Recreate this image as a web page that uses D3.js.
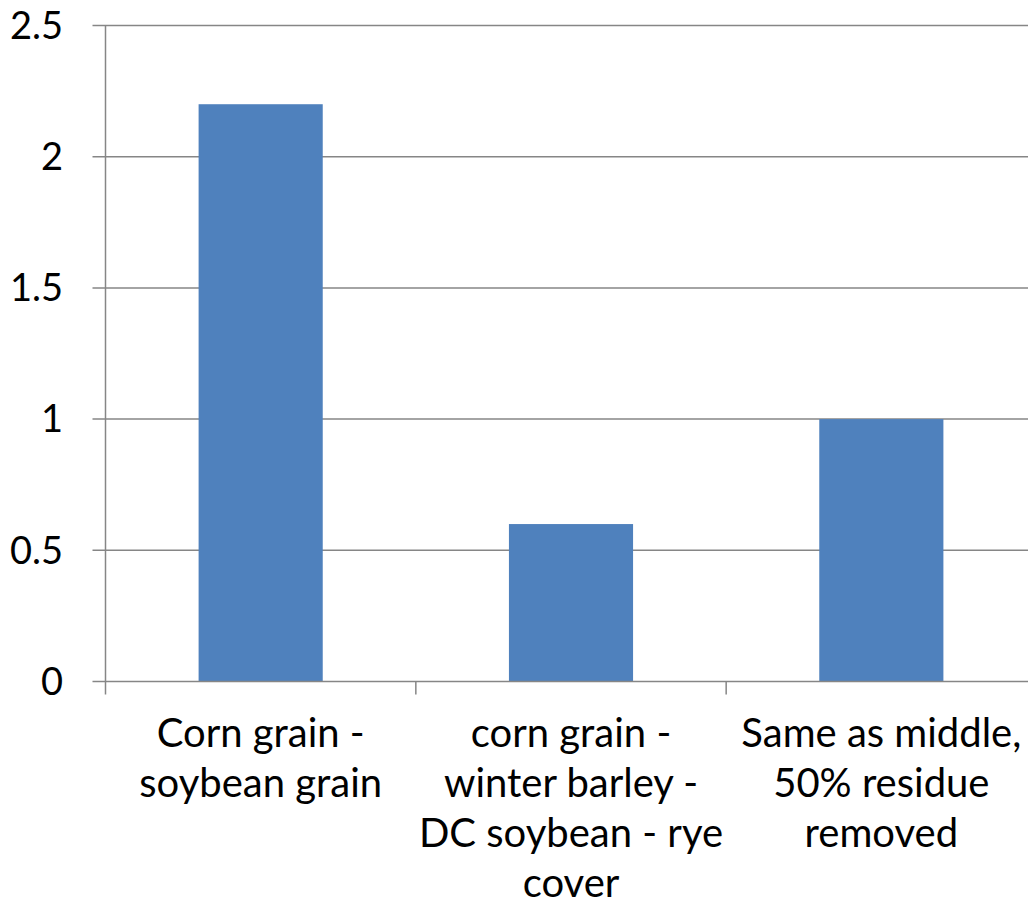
<!DOCTYPE html>
<html><head><meta charset="utf-8">
<script src="https://cdn.jsdelivr.net/npm/d3@7"></script>
<style>body{margin:0;background:#fff}svg{display:block}</style>
</head><body>
<script>
const categories = ["Corn grain - soybean grain", "corn grain - winter barley - DC soybean - rye cover", "Same as middle, 50% residue removed"];
const categoryLines = [["Corn grain -", "soybean grain"], ["corn grain -", "winter barley -", "DC soybean - rye", "cover"], ["Same as middle,", "50% residue", "removed"]];
const values = [2.2, 0.6, 1.0];
const yTicks = [0, 0.5, 1, 1.5, 2, 2.5];
const yTickLabels = ["0", "0.5", "1", "1.5", "2", "2.5"];

const W = 1028, H = 907;
const m = {left: 105.5, top: 25.5, right: 1036.5, bottom: 681.5};
const font = "Lato, 'Open Sans', sans-serif";

const svg = d3.select("body").append("svg").attr("width", W).attr("height", H);

const x = d3.scaleBand().domain(categories).range([m.left, m.right]).paddingInner(0.6).paddingOuter(0.3);
const xb = d3.scaleBand().domain(categories).range([m.left, m.right]);
const y = d3.scaleLinear().domain([0, 2.5]).range([m.bottom, m.top]);

// gridlines
svg.append("g").selectAll("line").data(yTicks.filter(d => d > 0)).join("line")
  .attr("x1", m.left - 13).attr("x2", W).attr("y1", d => y(d)).attr("y2", d => y(d))
  .attr("stroke", "#868686").attr("stroke-width", 1.5);

// bars
svg.append("g").selectAll("rect").data(values).join("rect")
  .attr("x", (d, i) => x(categories[i])).attr("width", x.bandwidth())
  .attr("y", d => y(d)).attr("height", d => y(0) - y(d))
  .attr("fill", "#4F81BD");

// y axis line
svg.append("line").attr("x1", m.left).attr("x2", m.left).attr("y1", m.top).attr("y2", m.bottom)
  .attr("stroke", "#868686").attr("stroke-width", 1.5);
// zero line
svg.append("line").attr("x1", m.left - 13).attr("x2", W).attr("y1", y(0)).attr("y2", y(0))
  .attr("stroke", "#868686").attr("stroke-width", 1.5);

// x ticks at band boundaries
svg.append("g").selectAll("line").data(categories).join("line")
  .attr("x1", d => xb(d)).attr("x2", d => xb(d)).attr("y1", y(0)).attr("y2", y(0) + 13)
  .attr("stroke", "#868686").attr("stroke-width", 1.5);

// y tick labels
svg.append("g").selectAll("text").data(yTicks).join("text")
  .attr("x", 63).attr("y", d => y(d)).attr("dy", "0.35em")
  .attr("text-anchor", "end").attr("font-family", font).attr("font-size", 38).attr("fill", "#000")
  .text((d, i) => yTickLabels[i]);

// x labels
const xl = svg.append("g").selectAll("text").data(categories).join("text")
  .attr("text-anchor", "middle").attr("font-family", font).attr("font-size", 40).attr("fill", "#000")
  .attr("transform", d => `translate(${xb(d) + xb.bandwidth() / 2},0)`);
xl.selectAll("tspan").data((d, i) => categoryLines[i]).join("tspan")
  .attr("x", 0).attr("y", (d, j) => 747 + j * 50).text(d => d);
</script>
</body></html>
